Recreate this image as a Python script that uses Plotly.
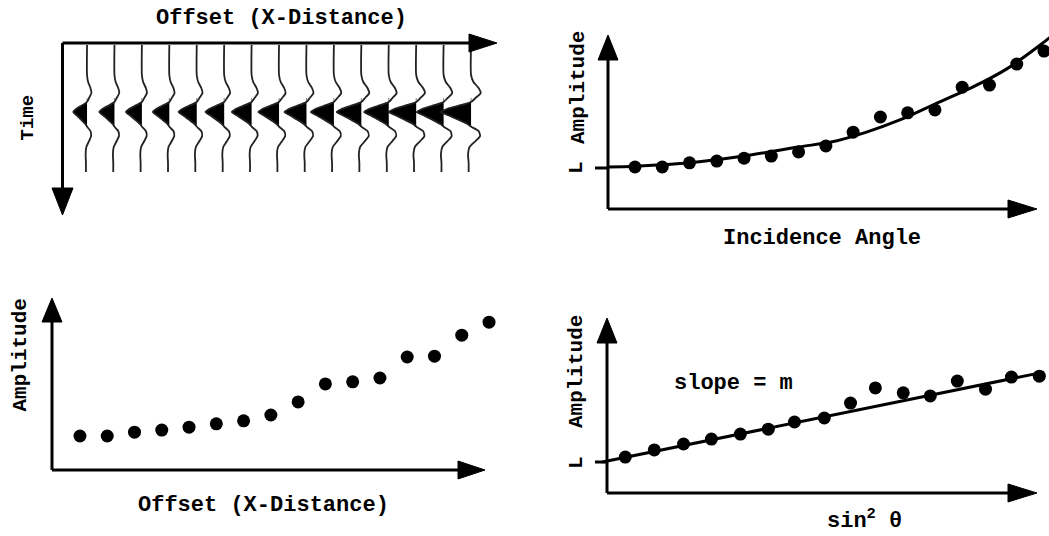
import plotly.graph_objects as go

W, H = 1049, 536

# ---------------- data ----------------
# Top-left: seismic gather, 15 traces (offset index) with growing event amplitude
gather_offset = list(range(1, 16))
lobe_amp = [0.5, 0.55, 0.58, 0.6, 0.66, 0.68, 0.72, 0.75, 0.8, 0.84, 0.9, 0.9, 1.0, 0.98, 1.1]
# wavelet: time samples and normalised deflection
wavelet_time = [3, 33, 40, 46, 51, 56, 60, 64, 67, 70, 74, 78, 82, 85, 89, 94, 99, 105, 112, 121, 130]
wavelet_shape = [0, 0, 0.08, 0.25, 0.32, 0.15, 0, -0.45, -0.8, -1.0, -0.7, -0.4, -0.12, 0.02,
                 0.25, 0.3, 0.15, -0.05, -0.1, -0.08, -0.08]

# Top-right: amplitude vs incidence angle
angle_idx = list(range(1, 17))
angle_amp = [1.00, 1.00, 1.10, 1.14, 1.21, 1.26, 1.36, 1.50, 1.83, 2.19, 2.29, 2.36, 2.90, 2.95, 3.45, 3.76]
angle_fit_x = [0.0, 1.0, 3.02, 4.99, 7.03, 8.24, 9.49, 10.71, 12.18, 13.38, 14.62, 15.91, 16.24]
angle_fit_y = [1.0, 1.02, 1.10, 1.26, 1.48, 1.60, 1.83, 2.12, 2.55, 2.90, 3.33, 3.93, 4.10]

# Bottom-left: amplitude vs offset
offset_idx = list(range(1, 17))
offset_amp = [0.81, 0.81, 0.90, 0.95, 1.02, 1.10, 1.17, 1.31, 1.62, 2.05, 2.10, 2.19, 2.69, 2.71, 3.21, 3.52]

# Bottom-right: amplitude vs sin^2(theta)
sin2_x = [0.83, 1.88, 2.94, 3.95, 5.0, 6.01, 6.96, 8.04, 8.99, 9.89, 10.9, 11.88, 12.86, 13.88, 14.82, 15.83]
sin2_amp = [1.16, 1.39, 1.58, 1.74, 1.90, 2.06, 2.29, 2.42, 2.90, 3.39, 3.23, 3.13, 3.61, 3.35, 3.74, 3.77]
sin2_fit_x = [0.0, 16.0]
sin2_fit_y = [1.0, 3.9]

# ---------------- layout helpers ----------------
FONT = dict(family="Liberation Mono", size=21, color="black")


def px_paper(px, py):
    return px / W, 1 - py / H


def xrange_for(x0, sx):
    return [(0 - x0) / sx, (W - x0) / sx]


def yrange_for(y0, sy):
    return [(y0 - H) / sy, y0 / sy]


fig = go.Figure()

ax = dict(visible=False, domain=[0, 1], fixedrange=True)
fig.update_layout(
    width=W, height=H, margin=dict(l=0, r=0, t=0, b=0),
    paper_bgcolor="white", plot_bgcolor="rgba(0,0,0,0)", showlegend=False,
    xaxis=dict(**ax, range=xrange_for(59.6, 27.43), anchor="y"),
    yaxis=dict(**ax, range=[H - 42, -42], anchor="x"),
    xaxis2=dict(**ax, range=xrange_for(607.7, 27.27), anchor="y2"),
    yaxis2=dict(**ax, range=yrange_for(209, 42), anchor="x2"),
    xaxis3=dict(**ax, range=xrange_for(52.7, 27.27), anchor="y3"),
    yaxis3=dict(**ax, range=yrange_for(470, 42), anchor="x3"),
    xaxis4=dict(**ax, range=xrange_for(602.4, 27.6), anchor="y4"),
    yaxis4=dict(**ax, range=yrange_for(493, 31), anchor="x4"),
)

# ---- top-left gather ----
for off, a in zip(gather_offset, lobe_amp):
    fill_x = [off + a * min(w, 0) for w in wavelet_shape[5:14]]
    fig.add_trace(go.Scatter(x=fill_x, y=wavelet_time[5:14], mode="lines", fill="toself",
                             fillcolor="black", line=dict(color="black", width=0.5),
                             xaxis="x", yaxis="y", hoverinfo="skip"))
    fig.add_trace(go.Scatter(x=[off + a * w for w in wavelet_shape], y=wavelet_time, mode="lines",
                             line=dict(color="#222", width=1.8, shape="spline", smoothing=0.6),
                             xaxis="x", yaxis="y", hoverinfo="skip"))

# ---- top-right ----
fig.add_trace(go.Scatter(x=angle_fit_x, y=angle_fit_y, mode="lines",
                         line=dict(color="black", width=3, shape="spline", smoothing=0.8),
                         xaxis="x2", yaxis="y2"))
fig.add_trace(go.Scatter(x=angle_idx, y=angle_amp, mode="markers",
                         marker=dict(color="black", size=13), xaxis="x2", yaxis="y2"))

# ---- bottom-left ----
fig.add_trace(go.Scatter(x=offset_idx, y=offset_amp, mode="markers",
                         marker=dict(color="black", size=13), xaxis="x3", yaxis="y3"))

# ---- bottom-right ----
fig.add_trace(go.Scatter(x=sin2_fit_x, y=sin2_fit_y, mode="lines",
                         line=dict(color="black", width=3), xaxis="x4", yaxis="y4"))
fig.add_trace(go.Scatter(x=sin2_x, y=sin2_amp, mode="markers",
                         marker=dict(color="black", size=13), xaxis="x4", yaxis="y4"))

# ---- axis arrows (layout decoration, in pixels) ----
shapes = []


def line(p1, p2, width=3):
    x0, y0 = px_paper(*p1)
    x1, y1 = px_paper(*p2)
    shapes.append(dict(type="line", xref="paper", yref="paper", x0=x0, y0=y0, x1=x1, y1=y1,
                       line=dict(color="black", width=width)))


def head(tip, direction, length, hw):
    tx, ty = tip
    if direction == "right":
        pts = [(tx, ty), (tx - length, ty - hw), (tx - length, ty + hw)]
    elif direction == "up":
        pts = [(tx, ty), (tx - hw, ty + length), (tx + hw, ty + length)]
    else:  # down
        pts = [(tx, ty), (tx - hw, ty - length), (tx + hw, ty - length)]
    pp = [px_paper(*p) for p in pts]
    path = "M {} {} L {} {} L {} {} Z".format(pp[0][0], pp[0][1], pp[1][0], pp[1][1], pp[2][0], pp[2][1])
    shapes.append(dict(type="path", xref="paper", yref="paper", path=path,
                       fillcolor="black", line=dict(color="black", width=1)))


# top-left
line((62.5, 43), (480, 43)); head((497, 43), "right", 28, 9)
line((62.5, 43), (62.5, 200)); head((62.5, 215), "down", 27, 10.5)
# top-right
line((608, 209), (608, 50)); head((608, 35), "up", 25, 10)
line((608, 209), (1020, 209)); head((1037, 209), "right", 29, 9)
line((595, 168), (608, 168))
# bottom-left
line((52, 470), (52, 310)); head((52, 298), "up", 24, 10)
line((52, 470), (470, 470)); head((485, 470), "right", 27, 9)
# bottom-right
line((607, 493), (607, 330)); head((607, 318), "up", 25, 10)
line((607, 493), (1020, 493)); head((1037, 493), "right", 29, 9)
line((595, 462), (607, 462))

fig.update_layout(shapes=shapes)

# ---- labels ----
def label(text, px, py, angle=0, size=21):
    x, y = px_paper(px, py)
    fig.add_annotation(text="<b>" + text + "</b>", x=x, y=y, xref="paper", yref="paper",
                       showarrow=False, textangle=angle, xanchor="center", yanchor="middle",
                       font=dict(FONT, size=size))


label("Offset (X-Distance)", 281, 19, size=22)
label("Time", 27.5, 118, -90, 19)
label("Amplitude", 578, 88, -90)
label("L", 576, 168, -90)
label("Incidence Angle", 822, 238, size=22)
label("Amplitude", 19.5, 355, -90)
label("Offset (X-Distance)", 263.5, 505, size=22)
label("Amplitude", 576, 372, -90)
label("L", 576, 463, -90)
label("slope = m", 733, 383, size=22)
label("sin<sup>2</sup> θ", 864, 519, size=22)

fig.write_html("out.html", config={"displayModeBar": False},
               post_script="document.body.style.margin='0px';document.body.style.overflow='hidden';")
